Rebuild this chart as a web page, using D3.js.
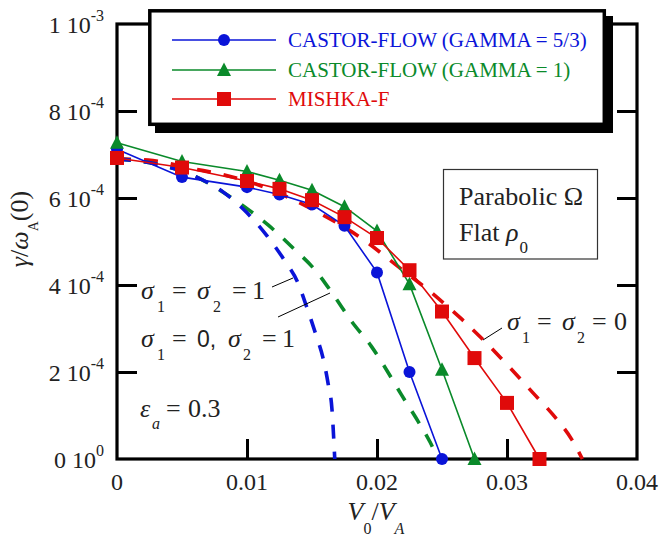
<!DOCTYPE html>
<html><head><meta charset="utf-8">
<script src="https://cdn.jsdelivr.net/npm/d3@7"></script>
<style>
html,body{margin:0;padding:0;background:#fff;}
svg{display:block;}
</style></head>
<body><div id="chart"></div>
<script>
// ---------- data ----------
const xTickValues = [0, 0.01, 0.02, 0.03, 0.04];
const xTickLabels = ["0", "0.01", "0.02", "0.03", "0.04"];
const yTickValues = [0, 2e-4, 4e-4, 6e-4, 8e-4, 1e-3];
const yTickMantissa = ["0", "2", "4", "6", "8", "1"];
const yTickExponent = ["0", "-4", "-4", "-4", "-4", "-3"];

const seriesNames = ["CASTOR-FLOW (GAMMA = 5/3)", "CASTOR-FLOW (GAMMA = 1)", "MISHKA-F"];

const castor53X = [0, 0.005, 0.01, 0.0125, 0.015, 0.0175, 0.02, 0.0225, 0.025];
const castor53Y = [7.12e-4, 6.48e-4, 6.25e-4, 6.08e-4, 5.85e-4, 5.36e-4, 4.29e-4, 2.0e-4, 0];

const castor1X = [0, 0.005, 0.01, 0.0125, 0.015, 0.0175, 0.02, 0.0225, 0.025, 0.0275];
const castor1Y = [7.27e-4, 6.84e-4, 6.61e-4, 6.41e-4, 6.18e-4, 5.80e-4, 5.24e-4, 4.02e-4, 2.05e-4, 0];

const mishkaX = [0, 0.005, 0.01, 0.0125, 0.015, 0.0175, 0.02, 0.0225, 0.025, 0.0275, 0.03, 0.0325];
const mishkaY = [6.92e-4, 6.70e-4, 6.39e-4, 6.21e-4, 5.95e-4, 5.56e-4, 5.08e-4, 4.34e-4, 3.39e-4, 2.32e-4, 1.29e-4, 0];

// dashed curves (no markers)
const sig11X = [0, 0.003, 0.006, 0.00815, 0.01, 0.01154, 0.01292, 0.01392, 0.01462, 0.01531, 0.01585, 0.01623, 0.01654, 0.01675];
const sig11Y = [6.9e-4, 6.78e-4, 6.5e-4, 6.14e-4, 5.66e-4, 5.13e-4, 4.55e-4, 4.05e-4, 3.47e-4, 2.85e-4, 2.32e-4, 1.75e-4, 1.13e-4, 0];

const sig01X = [0, 0.003, 0.006, 0.00792, 0.00985, 0.01162, 0.01354, 0.01531, 0.01677, 0.01808, 0.01954, 0.02069, 0.02185, 0.02315, 0.02408, 0.0247];
const sig01Y = [6.9e-4, 6.78e-4, 6.5e-4, 6.18e-4, 5.79e-4, 5.38e-4, 4.85e-4, 4.32e-4, 3.72e-4, 3.15e-4, 2.60e-4, 2.07e-4, 1.49e-4, 0.87e-4, 0.39e-4, 0];

const sig00X = [0, 0.0024, 0.0061, 0.0077, 0.0115, 0.0135, 0.0154, 0.0193, 0.021, 0.0246, 0.0265, 0.0284, 0.0302, 0.032, 0.0335, 0.035, 0.0358];
const sig00Y = [6.9e-4, 6.87e-4, 6.66e-4, 6.57e-4, 6.23e-4, 5.97e-4, 5.68e-4, 4.97e-4, 4.57e-4, 3.72e-4, 3.22e-4, 2.67e-4, 2.11e-4, 1.52e-4, 1.03e-4, 0.44e-4, 0];

// ---------- setup ----------
const W = 660, H = 541;
const SERIF = "Liberation Serif";
const SANS = "Liberation Sans";
const BLUE = "#0a14d8", GREEN = "#0a8a2a", RED = "#e00a0a";
const svg = d3.select("#chart").append("svg").attr("width", W).attr("height", H)
  .attr("font-family", SERIF);

const x = d3.scaleLinear().domain([0, 0.04]).range([117, 637]);
const y = d3.scaleLinear().domain([0, 1e-3]).range([459, 24]);

const zip = (xs, ys) => xs.map((v, i) => [v, ys[i]]);
const txt = sel => sel.attr("fill", "#222").attr("font-family", SERIF);

// ---------- frame and ticks ----------
const inner = [0.01, 0.02, 0.03];
const innerY = [2e-4, 4e-4, 6e-4, 8e-4];
function ticks(axis, tr) {
  svg.append("g").attr("transform", tr)
    .call(axis.tickSize(-20).tickFormat(""))
    .call(g => g.select(".domain").remove())
    .selectAll("line").attr("stroke", "#000").attr("stroke-width", 3);
}
ticks(d3.axisBottom(x).tickValues(inner), `translate(0,${y(0)})`);
ticks(d3.axisTop(x).tickValues(inner), `translate(0,${y(1e-3)})`);
ticks(d3.axisLeft(y).tickValues(innerY), `translate(${x(0)},0)`);
ticks(d3.axisRight(y).tickValues(innerY), `translate(${x(0.04)},0)`);

svg.append("rect")
  .attr("x", x(0)).attr("y", y(1e-3))
  .attr("width", x(0.04) - x(0)).attr("height", y(0) - y(1e-3))
  .attr("fill", "none").attr("stroke", "#000").attr("stroke-width", 3.2);

// tick labels
svg.append("g").selectAll("text").data(xTickValues).join("text")
  .call(txt)
  .attr("x", d => x(d)).attr("y", 490)
  .attr("text-anchor", "middle").attr("font-size", 24)
  .text((d, i) => xTickLabels[i]);

const yl = svg.append("g").selectAll("text").data(yTickValues).join("text")
  .call(txt)
  .attr("x", 104).attr("y", d => y(d) + 9)
  .attr("text-anchor", "end").attr("font-size", 24);
yl.append("tspan").text((d, i) => yTickMantissa[i] + " 10");
yl.append("tspan").attr("font-size", 16).attr("dy", -12).text((d, i) => yTickExponent[i]);

// axis titles
const xt = svg.append("text").call(txt).attr("x", 376).attr("y", 520).attr("text-anchor", "middle").attr("font-size", 26);
xt.append("tspan").attr("font-style", "italic").text("V");
xt.append("tspan").attr("font-size", 16).attr("dy", 14).text("0");
xt.append("tspan").attr("dy", -14).text("/");
xt.append("tspan").attr("font-style", "italic").text("V");
xt.append("tspan").attr("font-size", 16).attr("font-style", "italic").attr("dy", 14).text("A");

const ytl = svg.append("text").call(txt).attr("transform", "translate(28,229) rotate(-90)")
  .attr("text-anchor", "middle").attr("font-size", 26);
ytl.append("tspan").attr("font-style", "italic").text("γ");
ytl.append("tspan").text("/");
ytl.append("tspan").attr("font-style", "italic").text("ω");
ytl.append("tspan").attr("font-size", 14).attr("dy", 10).text("A");
ytl.append("tspan").attr("dy", -10).text("(0)");

// ---------- curves ----------
const smooth = d3.line().x(d => x(d[0])).y(d => y(d[1])).curve(d3.curveMonotoneX);
const straight = d3.line().x(d => x(d[0])).y(d => y(d[1]));

const dashed = [
  {pts: zip(sig00X, sig00Y), color: RED},
  {pts: zip(sig01X, sig01Y), color: GREEN},
  {pts: zip(sig11X, sig11Y), color: BLUE}
];
svg.append("g").selectAll("path").data(dashed).join("path")
  .attr("d", d => smooth(d.pts))
  .attr("fill", "none").attr("stroke", d => d.color)
  .attr("stroke-width", 3.6).attr("stroke-dasharray", "14,13");

const triPath = "M0,-7.5L7,6L-7,6Z";
const markers = {
  circle: g => g.append("circle").attr("r", 6),
  triangle: g => g.append("path").attr("d", triPath),
  square: g => g.append("rect").attr("x", -7).attr("y", -7).attr("width", 14).attr("height", 14)
};

const solid = [
  {pts: zip(castor53X, castor53Y), color: BLUE, m: "circle"},
  {pts: zip(castor1X, castor1Y), color: GREEN, m: "triangle"},
  {pts: zip(mishkaX, mishkaY), color: RED, m: "square"}
];
solid.forEach(s => {
  svg.append("path").attr("d", straight(s.pts))
    .attr("fill", "none").attr("stroke", s.color).attr("stroke-width", 1.6);
});
solid.forEach(s => {
  svg.append("g").selectAll("g").data(s.pts).join("g")
    .attr("transform", d => `translate(${x(d[0])},${y(d[1])})`)
    .each(function () { markers[s.m](d3.select(this)).attr("fill", s.color); });
});

// ---------- legend ----------
const lg = svg.append("g");
lg.append("rect").attr("x", 155).attr("y", 16).attr("width", 458).attr("height", 117).attr("fill", "#000");
lg.append("rect").attr("x", 149.8).attr("y", 10.8).attr("width", 454.5).attr("height", 113.5)
  .attr("fill", "#fff").attr("stroke", "#000").attr("stroke-width", 3.5);
const legRows = [40, 70, 99];
solid.forEach((s, i) => {
  const r = lg.append("g").attr("transform", `translate(0,${legRows[i]})`);
  r.append("line").attr("x1", 172).attr("x2", 276).attr("stroke", s.color).attr("stroke-width", 1.6);
  markers[s.m](r.append("g").attr("transform", "translate(224,0)")).attr("fill", s.color);
  r.append("text").call(txt).attr("x", 288).attr("y", 7).attr("font-size", 21)
    .attr("fill", s.color).text(seriesNames[i]);
});

// ---------- annotation box ----------
svg.append("rect").attr("x", 443.5).attr("y", 169.5).attr("width", 154).attr("height", 89.5)
  .attr("fill", "#fff").attr("stroke", "#333").attr("stroke-width", 1.2);
svg.append("text").call(txt).attr("x", 459).attr("y", 205).attr("font-size", 26).text("Parabolic Ω");
const fl = svg.append("text").call(txt).attr("x", 459).attr("y", 241).attr("font-size", 26);
fl.append("tspan").text("Flat ");
fl.append("tspan").attr("font-style", "italic").text("ρ");
fl.append("tspan").attr("font-size", 17).attr("dy", 12).attr("dx", 1).text("0");

// ---------- rich labels ----------
function rich(x0, y0, size, parts) {
  const g = svg.append("g");
  parts.forEach(p => {
    g.append("text").attr("x", x0 + p[1]).attr("y", y0 + (p[2] || 0))
      .attr("fill", "#222")
      .attr("font-size", p[3] || size)
      .attr("font-style", p[4] === "i" ? "italic" : "normal")
      .attr("font-family", p[4] === "s" ? SANS : SERIF)
      .text(p[0]);
  });
}
rich(141, 299, 26, [["σ", 0, 0, 0, "i"], ["1", 16, 13, 16], ["=", 31], ["σ", 56, 0, 0, "i"], ["2", 72, 13, 16], ["=", 91], ["1", 111]]);
rich(141, 347, 26, [["σ", 0, 0, 0, "i"], ["1", 16, 13, 16], ["=", 31], ["0,", 56, 0, 23, "s"], ["σ", 87, 0, 0, "i"], ["2", 102, 13, 16], ["=", 121], ["1", 141]]);
rich(140, 417, 26, [["ε", 0, 0, 0, "i"], ["a", 12, 12, 16, "i"], ["=", 26], ["0.3", 48]]);
rich(507, 330, 26, [["σ", 0, 0, 0, "i"], ["1", 15, 13, 16], ["=", 30], ["σ", 55, 0, 0, "i"], ["2", 70, 13, 16], ["=", 85], ["0", 107]]);

// leader lines
const leaders = [[272, 287, 293, 278], [278, 317, 330, 293], [483, 340, 502, 328]];
svg.append("g").selectAll("line").data(leaders).join("line")
  .attr("x1", d => d[0]).attr("y1", d => d[1]).attr("x2", d => d[2]).attr("y2", d => d[3])
  .attr("stroke", "#000").attr("stroke-width", 1);
</script>
</body></html>
